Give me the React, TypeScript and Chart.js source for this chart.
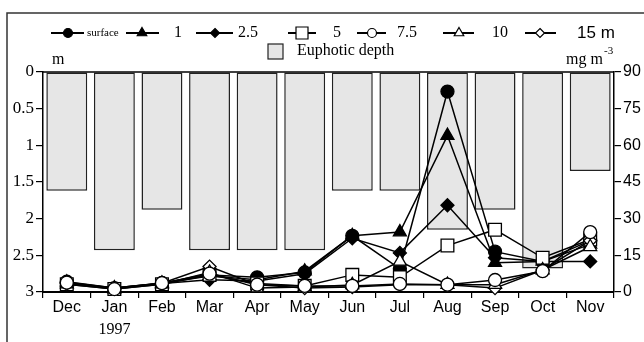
import React, { useEffect, useRef } from "react";
import { Chart, registerables } from "chart.js";
Chart.register(...registerables);

const months = ["Dec", "Jan", "Feb", "Mar", "Apr", "May", "Jun", "Jul", "Aug", "Sep", "Oct", "Nov"];
const euphoticDepth = [1.62, 2.43, 1.88, 2.43, 2.43, 2.43, 1.62, 1.62, 2.15, 1.88, 2.68, 1.35];
const chlSurface = [4.2, 1.6, 3.7, 7, 6, 8, 23, 9.5, 82, 16.5, 12.5, 21];
const chl1 = [4, 1.6, 3.6, 6.5, 5, 8.5, 23, 24.5, 64, 12, 12.5, 19.5];
const chl2_5 = [3.8, 1.5, 3.5, 5, 4.5, 7.5, 22, 16, 35.5, 14, 12.5, 12.5];
const chl5 = [3.2, 1.2, 3.2, 7, 3.5, 2.5, 7, 6, 19, 25.5, 14, 21.5];
const chl7_5 = [3.8, 1.2, 3.6, 7.5, 3, 2.5, 2.5, 3.3, 3, 4.9, 8.5, 24.5];
const chl10 = [3.2, 1.2, 3.2, 8, 1.6, 2, 2.9, 12.5, 3, 3, 9, 18.5];
const chl15 = [3.4, 1.6, 3.6, 10.4, 3, 1.6, 2, 3, 3, 1.6, 9, 21];
const leftTicks = [0, 0.5, 1, 1.5, 2, 2.5, 3];
const rightTicks = [0, 15, 30, 45, 60, 75, 90];

const SERIF = "'Liberation Serif', 'Times New Roman', serif";
const SANS = "'Liberation Sans', Arial, sans-serif";

type Sty = { style: string; fill: boolean; r: number };
const styles: Sty[] = [
  { style: "circle", fill: true, r: 6.5 },
  { style: "triangle", fill: true, r: 7.5 },
  { style: "rectRot", fill: true, r: 6.5 },
  { style: "rect", fill: false, r: 9 },
  { style: "circle", fill: false, r: 6.5 },
  { style: "triangle", fill: false, r: 7.5 },
  { style: "rectRot", fill: false, r: 6.5 },
];
const seriesLabels = ["surface", "1", "2.5", "5", "7.5", "10", "15 m"];
const seriesData = [chlSurface, chl1, chl2_5, chl5, chl7_5, chl10, chl15];
const drawOrder = [7, 6, 5, 4, 1, 2, 3];

function drawMarker(ctx: CanvasRenderingContext2D, style: string, fill: boolean, x: number, y: number, r: number) {
  ctx.beginPath();
  if (style === "circle") {
    ctx.arc(x, y, r, 0, Math.PI * 2);
  } else if (style === "triangle") {
    ctx.moveTo(x, y - r);
    ctx.lineTo(x + r * 0.866, y + r * 0.5);
    ctx.lineTo(x - r * 0.866, y + r * 0.5);
    ctx.closePath();
  } else if (style === "rectRot") {
    ctx.moveTo(x, y - r);
    ctx.lineTo(x + r, y);
    ctx.lineTo(x, y + r);
    ctx.lineTo(x - r, y);
    ctx.closePath();
  } else {
    ctx.rect(x - r, y - r, 2 * r, 2 * r);
  }
  ctx.fillStyle = fill ? "#000" : "#fff";
  ctx.fill();
  ctx.strokeStyle = "#000";
  ctx.lineWidth = 1.2;
  ctx.stroke();
}

const decorPlugin = {
  id: "decor",
  afterDraw(chart: any) {
    const ctx: CanvasRenderingContext2D = chart.ctx;
    const ca = chart.chartArea;
    ctx.save();
    // outer frame
    ctx.strokeStyle = "#333";
    ctx.lineWidth = 1.5;
    ctx.beginPath();
    ctx.moveTo(7, 342);
    ctx.lineTo(7, 13);
    ctx.lineTo(644, 13);
    ctx.stroke();
    // top plot line
    ctx.strokeStyle = "#000";
    ctx.lineWidth = 1.5;
    ctx.beginPath();
    ctx.moveTo(ca.left, ca.top);
    ctx.lineTo(ca.right, ca.top);
    ctx.stroke();

    // legend row 1
    const ly = 33;
    const items = [
      { l0: 51, l1: 84, mx: 68, tx: 87, font: `11px ${SERIF}` },
      { l0: 126, l1: 159, mx: 142, tx: 174, font: `16px ${SERIF}` },
      { l0: 196, l1: 233, mx: 215, tx: 238, font: `16px ${SERIF}` },
      { l0: 288, l1: 316, mx: 302, tx: 333, font: `16px ${SERIF}` },
      { l0: 357, l1: 386, mx: 372, tx: 397, font: `16px ${SERIF}` },
      { l0: 443, l1: 474, mx: 459, tx: 492, font: `16px ${SERIF}` },
      { l0: 525, l1: 556, mx: 540, tx: 577, font: `17px ${SANS}` },
    ];
    const legR = [4.5, 5.5, 4.5, 6, 4.5, 5.5, 4.5];
    items.forEach((it, i) => {
      ctx.strokeStyle = "#000";
      ctx.lineWidth = 2;
      ctx.beginPath();
      ctx.moveTo(it.l0, ly);
      ctx.lineTo(it.l1, ly);
      ctx.stroke();
      const s = styles[i];
      drawMarker(ctx, s.style, s.fill, it.mx, ly, legR[i]);
      ctx.fillStyle = "#000";
      ctx.font = it.font;
      ctx.textAlign = "left";
      ctx.textBaseline = "middle";
      ctx.fillText(seriesLabels[i], it.tx, ly);
    });
    // legend row 2
    ctx.fillStyle = "#e6e6e6";
    ctx.fillRect(268, 44, 15, 15);
    ctx.strokeStyle = "#222";
    ctx.lineWidth = 1.2;
    ctx.strokeRect(268, 44, 15, 15);
    ctx.fillStyle = "#000";
    ctx.font = `16px ${SERIF}`;
    ctx.textBaseline = "middle";
    ctx.fillText("Euphotic depth", 297, 51);

    // axis units
    ctx.font = `16px ${SERIF}`;
    ctx.fillText("m", 52, 60);
    ctx.fillText("mg m", 566, 60);
    ctx.font = `11px ${SERIF}`;
    ctx.fillText("-3", 604, 51);

    // year label
    ctx.font = `16px ${SERIF}`;
    ctx.textAlign = "center";
    const xs = chart.scales.x;
    ctx.fillText("1997", xs.getPixelForValue(1), 330);
    ctx.restore();
  },
};

export default function App() {
  const ref = useRef<HTMLCanvasElement>(null);
  useEffect(() => {
    if (!ref.current) return;
    const lineSets = seriesData.map((d, i) => ({
      type: "line" as const,
      label: seriesLabels[i],
      data: d,
      yAxisID: "y1",
      borderColor: "#000",
      borderWidth: 1.5,
      pointStyle: styles[i].style,
      pointRadius: styles[i].r,
      pointBackgroundColor: styles[i].fill ? "#000" : "#fff",
      pointBorderColor: "#000",
      pointBorderWidth: 1.3,
      tension: 0,
      clip: false as any,
      order: drawOrder[i],
    }));
    const chart = new Chart(ref.current, {
      type: "bar",
      data: {
        labels: months,
        datasets: [
          {
            type: "bar" as const,
            label: "Euphotic depth",
            data: euphoticDepth,
            yAxisID: "y",
            backgroundColor: "#e6e6e6",
            borderColor: "#222",
            borderWidth: 1.5,
            borderSkipped: false,
            barPercentage: 0.86,
            categoryPercentage: 1,
            order: 20,
          } as any,
          ...lineSets,
        ],
      },
      options: {
        animation: false,
        responsive: false,
        layout: { padding: { left: 0, right: 0, top: 72, bottom: 0 } },
        plugins: { legend: { display: false }, tooltip: { enabled: false } },
        scales: {
          x: {
            offset: true,
            grid: { display: true, drawOnChartArea: false, drawTicks: true, tickLength: 6, color: "#000", lineWidth: 1.2, offset: true },
            border: { display: true, color: "#000", width: 2 },
            ticks: { color: "#000", font: { family: SANS, size: 16 }, padding: 0, maxRotation: 0, autoSkip: false },
            afterFit: (s: any) => { s.height = 50; },
          },
          y: {
            position: "left",
            reverse: true,
            min: 0,
            max: 3,
            afterBuildTicks: (s: any) => { s.ticks = leftTicks.map((v) => ({ value: v })); },
            grid: { display: true, drawOnChartArea: false, drawTicks: true, tickLength: 7, color: "#000", lineWidth: 1.2 },
            border: { display: true, color: "#000", width: 1.5 },
            ticks: { color: "#000", font: { family: SERIF, size: 17 }, padding: 2, callback: (v: any) => String(v) },
            afterFit: (s: any) => { s.width = 43; },
          },
          y1: {
            position: "right",
            min: 0,
            max: 90,
            afterBuildTicks: (s: any) => { s.ticks = rightTicks.map((v) => ({ value: v })); },
            grid: { display: true, drawOnChartArea: false, drawTicks: true, tickLength: 7, color: "#000", lineWidth: 1.2 },
            border: { display: true, color: "#000", width: 1.5 },
            ticks: { color: "#000", font: { family: SANS, size: 16 }, padding: 2, callback: (v: any) => String(v) },
            afterFit: (s: any) => { s.width = 30; },
          },
        },
      },
      plugins: [decorPlugin],
    });
    return () => chart.destroy();
  }, []);
  return (
    <div style={{ position: "absolute", left: 0, top: 0, width: 644, height: 342, background: "#fff" }}>
      <canvas ref={ref} width={644} height={342} style={{ display: "block" }} />
    </div>
  );
}
